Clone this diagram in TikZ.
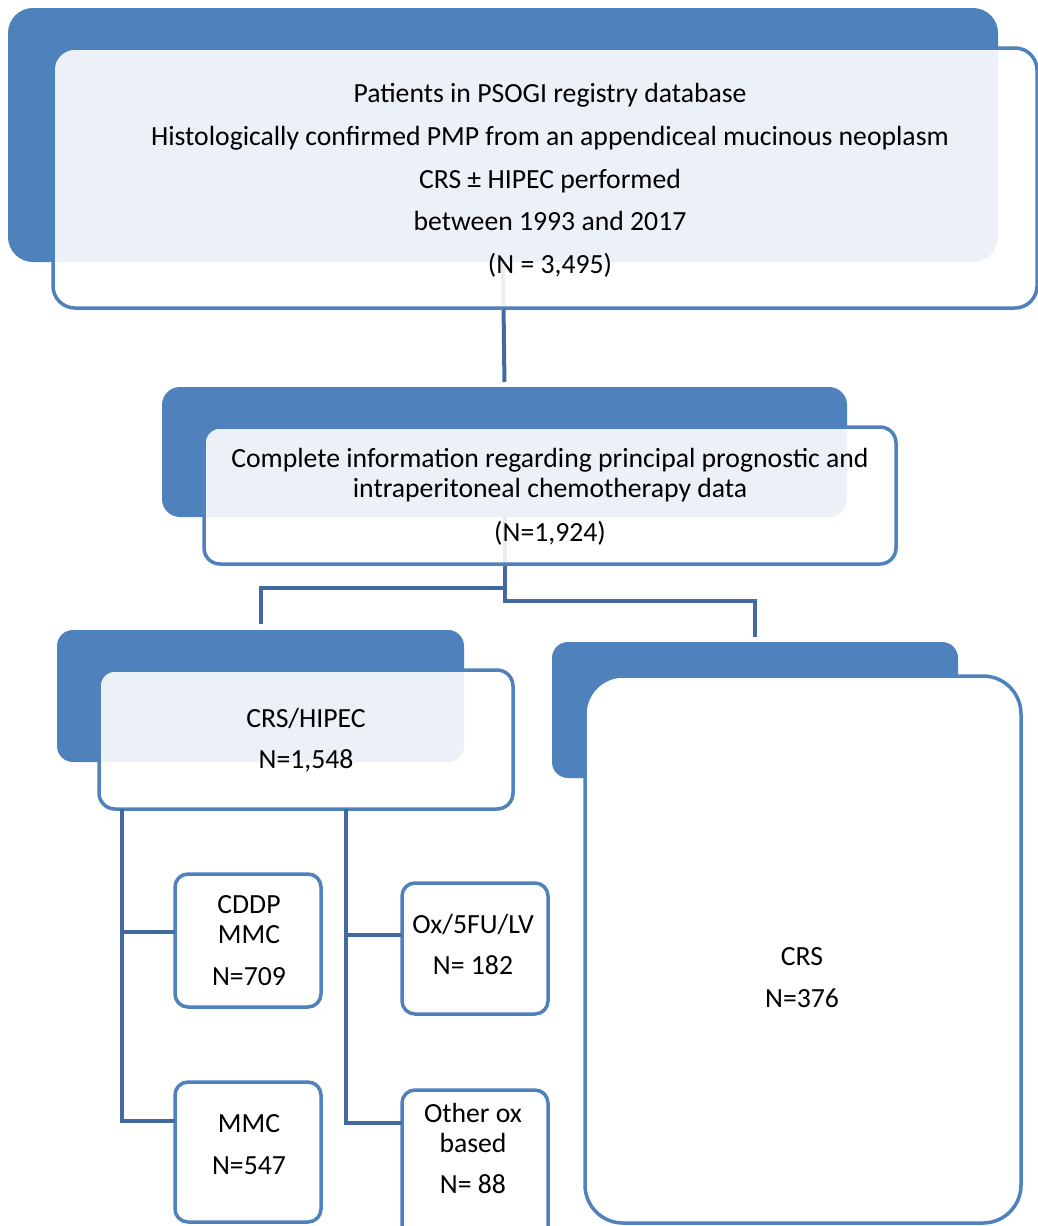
\documentclass[tikz,border=0pt]{standalone}
\usepackage{fontspec}
\setmainfont{Carlito}
\definecolor{accent}{RGB}{79,129,189}
\definecolor{connc}{RGB}{66,106,160}
\tikzset{
  back/.style={fill=accent, draw=none, rounded corners=#1, inner sep=0pt, outer sep=0pt},
  front/.style={fill=white, fill opacity=0.89, draw=accent, line width=3.5pt, rounded corners=#1, inner sep=0pt, outer sep=0pt},
  solidfront/.style={fill=white, draw=accent, line width=3.5pt, rounded corners=#1, inner sep=0pt, outer sep=0pt},
  txt/.style={align=center, text=black, inner sep=0pt, font=\fontsize{27.7}{#1}\selectfont},
  conn/.style={draw=connc, line width=4pt}
}
\begin{document}
\begin{tikzpicture}[x=1pt,y=-1pt]
\useasboundingbox (0,0) rectangle (1038,1226);
\clip (0,0) rectangle (1038,1226);
\fill[white] (0,0) rectangle (1038,1226);

% background shapes
\node[back=25pt, minimum width=990pt, minimum height=254pt] (topback) at (503,135) {};
\node[back=18pt, minimum width=685pt, minimum height=130pt] (midback) at (504.5,452) {};
\node[back=16pt, minimum width=407pt, minimum height=132pt] (hipback) at (260.5,696) {};
\node[back=16pt, minimum width=406pt, minimum height=136pt] (crsback) at (755,710) {};

% junction coordinates
\coordinate (j1) at (504.5,588);
\coordinate (j2) at (504.5,601);
\coordinate (la) at (122,809);
\coordinate (lb) at (122,932);
\coordinate (lc) at (122,1121);
\coordinate (ra) at (346,809);
\coordinate (rb) at (346,935);
\coordinate (rc) at (346,1123);

% connectors
\draw[conn, shorten >=5pt] (topback.south) -- (midback.north);
\draw[conn, shorten >=6pt] (midback.south) -- (j1) -| (hipback.north);
\draw[conn, shorten >=5pt] (midback.south) -- (j2) -| (crsback.north);

% front boxes
\node[front=22pt, minimum width=984pt, minimum height=260pt] (topbox) at (545,178) {};
\node[front=16pt, minimum width=692pt, minimum height=137pt] (midbox) at (550,495.5) {};
\node[front=16pt, minimum width=414pt, minimum height=139pt] (hipbox) at (306,739.5) {};
\node[solidfront=38pt, minimum width=436pt, minimum height=547pt] (crsbox) at (803,949.5) {};
\node[solidfront=13pt, minimum width=146pt, minimum height=133pt] (cddp) at (248,940.5) {};
\node[solidfront=13pt, minimum width=146pt, minimum height=140pt] (mmc) at (248,1152) {};
\node[solidfront=13pt, minimum width=146pt, minimum height=131pt] (oxfu) at (475,948.5) {};
\node[solidfront=13pt, minimum width=146pt, minimum height=150pt] (other) at (475,1165) {};

% lower connectors
\draw[conn] (la) -- (lc) -- (lc -| mmc.west);
\draw[conn] (lb) -- (lb -| cddp.west);
\draw[conn] (ra) -- (rc) -- (rc -| other.west);
\draw[conn] (rb) -- (rb -| oxfu.west);

% texts
\node[txt=42.75pt] (toptext) at (550,180.5) {Patients in PSOGI registry database\\Histologically confirmed PMP from an appendiceal mucinous neoplasm\\CRS ± HIPEC performed\\between 1993 and 2017\\(N = 3,495)};
\node[txt=30pt] (midtext) at (550,496.5) {Complete information regarding principal prognostic and\\intraperitoneal chemotherapy data\\[14pt](N=1,924)};
\node[txt=41pt] (hiptext) at (306,740) {CRS/HIPEC\\N=1,548};
\node[txt=42pt] (crstext) at (802,978) {CRS\\N=376};
\node[txt=30pt] (cddptext) at (249,941) {CDDP\\MMC\\[12pt]N=709};
\node[txt=42pt] (mmctext) at (249,1145) {MMC\\N=547};
\node[txt=41pt] (oxfutext) at (473,944) {Ox/5FU/LV\\N= 182};
\node[txt=30pt] (othertext) at (473,1148) {Other ox\\based\\[11pt]N= 88};
\end{tikzpicture}
\end{document}
